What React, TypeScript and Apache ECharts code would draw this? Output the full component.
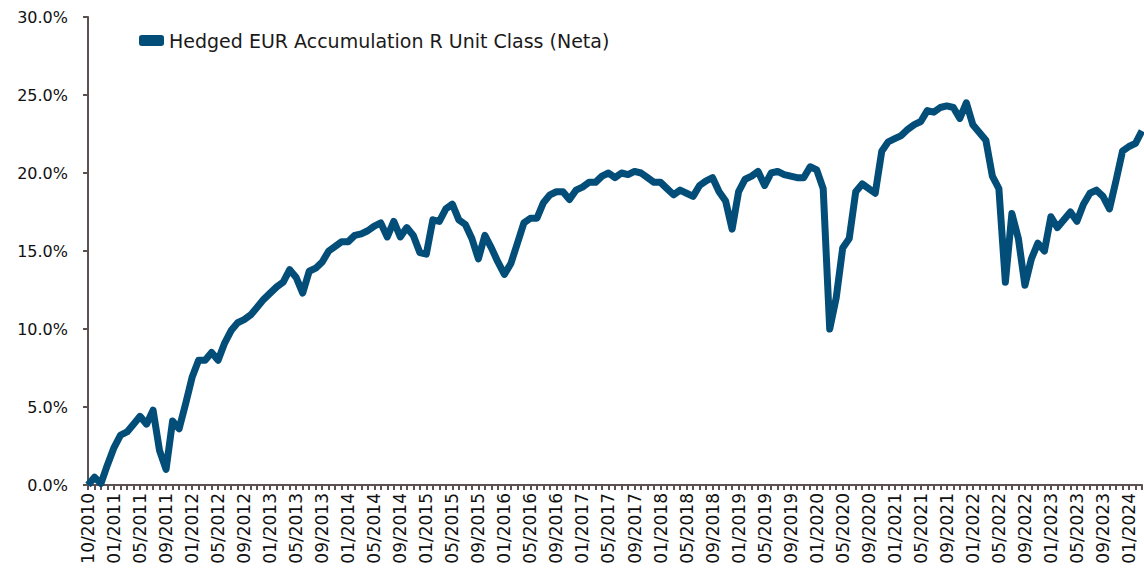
import React, { useEffect, useRef } from "react";
import * as echarts from "echarts";

const tickLabels = [
  "10/2010",
  "01/2011", "05/2011", "09/2011",
  "01/2012", "05/2012", "09/2012",
  "01/2013", "05/2013", "09/2013",
  "01/2014", "05/2014", "09/2014",
  "01/2015", "05/2015", "09/2015",
  "01/2016", "05/2016", "09/2016",
  "01/2017", "05/2017", "09/2017",
  "01/2018", "05/2018", "09/2018",
  "01/2019", "05/2019", "09/2019",
  "01/2020", "05/2020", "09/2020",
  "01/2021", "05/2021", "09/2021",
  "01/2022", "05/2022", "09/2022",
  "01/2023", "05/2023", "09/2023",
  "01/2024",
];

const seriesName = "Hedged EUR Accumulation R Unit Class (Neta)";

const values = [
  0.0, 0.5, 0.1, 1.3, 2.4, 3.2, 3.4, 3.9, 4.4, 3.9,
  4.8, 2.2, 1.0, 4.1, 3.6, 5.2, 6.9, 8.0, 8.0, 8.5,
  8.0, 9.1, 9.9, 10.4, 10.6, 10.9, 11.4, 11.9, 12.3, 12.7,
  13.0, 13.8, 13.3, 12.3, 13.7, 13.9, 14.3, 15.0, 15.3, 15.6,
  15.6, 16.0, 16.1, 16.3, 16.6, 16.8, 15.9, 16.9, 15.9, 16.5,
  16.0, 14.9, 14.8, 17.0, 16.9, 17.7, 18.0, 17.0, 16.7, 15.8,
  14.5, 16.0, 15.2, 14.3, 13.5, 14.2, 15.5, 16.8, 17.1, 17.1,
  18.1, 18.6, 18.8, 18.8, 18.3, 18.9, 19.1, 19.4, 19.4, 19.8,
  20.0, 19.7, 20.0, 19.9, 20.1, 20.0, 19.7, 19.4, 19.4, 19.0,
  18.6, 18.9, 18.7, 18.5, 19.2, 19.5, 19.7, 18.8, 18.2, 16.4,
  18.8, 19.6, 19.8, 20.1, 19.2, 20.0, 20.1, 19.9, 19.8, 19.7,
  19.7, 20.4, 20.2, 19.0, 10.0, 12.0, 15.2, 15.8, 18.8, 19.3,
  19.0, 18.7, 21.4, 22.0, 22.2, 22.4, 22.8, 23.1, 23.3, 24.0,
  23.9, 24.2, 24.3, 24.2, 23.5, 24.5, 23.1, 22.6, 22.1, 19.8,
  19.0, 13.0, 17.4, 15.8, 12.8, 14.5, 15.5, 15.0, 17.2, 16.5,
  17.0, 17.5, 16.9, 18.0, 18.7, 18.9, 18.5, 17.7, 19.5, 21.4,
  21.7, 21.9, 22.7,
];

// monthly categories, one per value
const categories: string[] = values.map((_, i) => {
  const m = 9 + i; // starting 10/2010 (0-based month 9)
  const year = 2010 + Math.floor(m / 12);
  const month = (m % 12) + 1;
  return (month < 10 ? "0" : "") + month + "/" + year;
});

const FONT = "DejaVu Sans";
const AXIS_COLOR = "#5a5150";
const LINE_COLOR = "#034d79";

export default function App() {
  const ref = useRef<HTMLDivElement>(null);

  useEffect(() => {
    if (!ref.current) return;
    const chart = echarts.init(ref.current, null, { renderer: "svg" });
    chart.setOption({
      animation: false,
      backgroundColor: "#ffffff",
      textStyle: { fontFamily: FONT },
      grid: { left: 88, right: 2, top: 17, bottom: 93, containLabel: false },
      legend: {
        show: true,
        left: 134,
        top: 26,
        icon: "roundRect",
        itemWidth: 25,
        itemHeight: 11,
        itemGap: 10,
        textStyle: { fontFamily: FONT, fontSize: 19, color: "#1a1a1a" },
        data: [seriesName],
      },
      xAxis: {
        type: "category",
        data: categories,
        boundaryGap: false,
        axisLine: { show: true, lineStyle: { color: AXIS_COLOR, width: 2 } },
        axisTick: {
          show: true,
          interval: 0,
          length: 5,
          lineStyle: { color: AXIS_COLOR, width: 2 },
        },
        axisLabel: {
          interval: (index: number) => index % 4 === 0,
          rotate: 90,
          margin: 8,
          fontFamily: FONT,
          fontSize: 17,
          color: "#111111",
          formatter: (_v: string, index: number) =>
            index % 4 === 0 && tickLabels[index / 4] ? tickLabels[index / 4] : "",
        },
        splitLine: { show: false },
      },
      yAxis: {
        type: "value",
        min: 0,
        max: 30,
        interval: 5,
        axisLine: { show: true, lineStyle: { color: AXIS_COLOR, width: 2 } },
        axisTick: { show: true, length: 5, lineStyle: { color: AXIS_COLOR, width: 2 } },
        axisLabel: {
          margin: 20,
          fontFamily: FONT,
          fontSize: 16,
          color: "#111111",
          formatter: (v: number) => v.toFixed(1) + "%",
        },
        splitLine: { show: false },
      },
      series: [
        {
          name: seriesName,
          type: "line",
          data: values,
          symbol: "none",
          smooth: false,
          itemStyle: { color: LINE_COLOR },
          lineStyle: { color: LINE_COLOR, width: 7, join: "round", cap: "butt" },
        },
      ],
    });
    return () => chart.dispose();
  }, []);

  return (
    <div
      ref={ref}
      style={{ position: "fixed", left: 0, top: 0, width: 1144, height: 578 }}
    />
  );
}
